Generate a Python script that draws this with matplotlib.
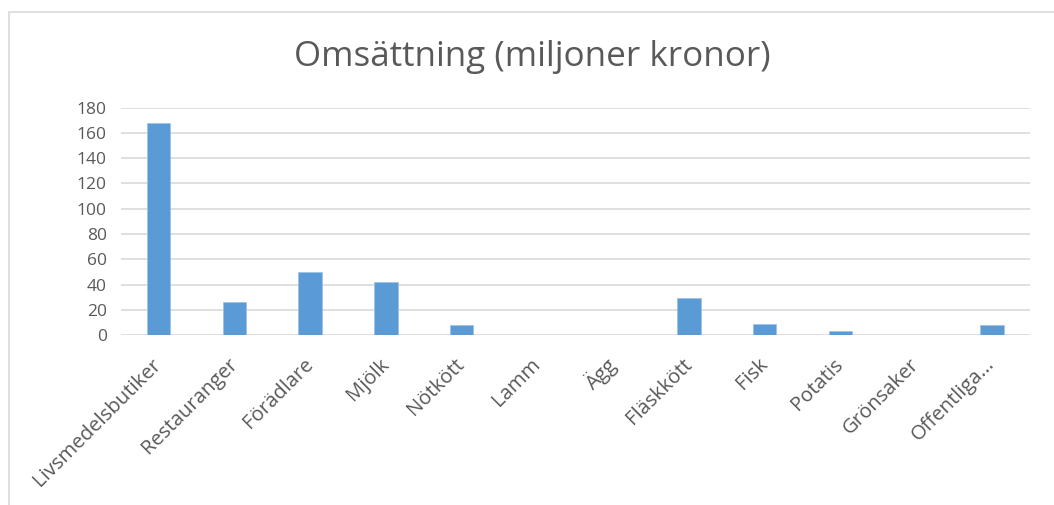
import matplotlib.pyplot as plt
from matplotlib.patches import Rectangle

categories = ["Livsmedelsbutiker", "Restauranger", "Förädlare", "Mjölk", "Nötkött",
              "Lamm", "Ägg", "Fläskkött", "Fisk", "Potatis", "Grönsaker", "Offentliga..."]
values = [168, 26, 50, 42, 8, 0, 0, 29, 9, 3, 0, 8]
yticks = [0, 20, 40, 60, 80, 100, 120, 140, 160, 180]

BAR = "#5B9BD5"
GRID = "#D9D9D9"
TEXT = "#595959"

plt.rcParams["font.family"] = ["Open Sans", "DejaVu Sans"]

fig = plt.figure(figsize=(10.54, 5.05), dpi=100)
ax = fig.add_axes([0.1145, 0.3366, 0.8625, 0.4501])

x = range(len(categories))
ax.bar(x, values, width=0.31, color=BAR, edgecolor="#9DC3E6", linewidth=0.6, zorder=3)

ax.set_xlim(-0.5, len(categories) - 0.5)
ax.set_ylim(0, 180)
ax.set_yticks(yticks)
ax.yaxis.grid(True, color=GRID, linewidth=1.2, zorder=0)
for s in ax.spines.values():
    s.set_visible(False)
ax.tick_params(axis="both", length=0, colors=TEXT)
ax.tick_params(axis="y", pad=10, labelsize=12.5)
ax.set_xticks(list(x))
ax.set_xticklabels(categories, rotation=45, ha="right", va="center",
                   rotation_mode="anchor", color=TEXT, fontsize=14.6)
ax.tick_params(axis="x", pad=19)

fig.text(0.505, 0.888, "Omsättning (miljoner kronor)", ha="center", va="center",
         fontsize=25.2, color=TEXT)

# chart frame
fig.patches.append(Rectangle((0.009, -0.1), 1.2, 1.1 - 12 / 505, transform=fig.transFigure,
                             fill=False, edgecolor=GRID, linewidth=1.2, clip_on=False))

plt.savefig("out.png", dpi=100)
